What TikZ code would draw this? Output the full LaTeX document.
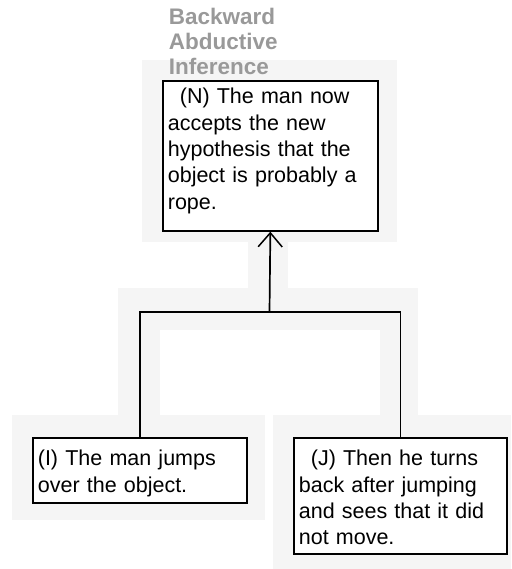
\documentclass[tikz,border=0pt]{standalone}
\usepackage{fontspec}
\setmainfont{Liberation Sans}
\usetikzlibrary{arrows.meta}

\begin{document}
\begin{tikzpicture}[x=1pt, y=-1pt, line width=1.7pt,
	shade/.style={fill=black!4, draw=none},
	claim/.style={draw, fill=white, anchor=north west, align=left, inner sep=0pt, inner xsep=5pt,
		font=\fontsize{21.5}{26.3}\selectfont},
	heading/.style={anchor=base west, align=left, text width=140pt, inner sep=0pt, text=black!40,
		font=\fontsize{22.5}{25}\selectfont\bfseries},
	arrows={-Straight Barb[length=14pt, width=24pt, line width=1.5pt]}]
	\useasboundingbox (0,0) rectangle (511,569);

	% light backdrop
	\fill[shade] (142,60) rectangle (397,242);
	\fill[shade] (248,242) rectangle (288,288);
	\fill[shade] (118,288) rectangle (418,415);
	\fill[white] (160,330) rectangle (380,415);
	\fill[shade] (12,415) rectangle (265,520);
	\fill[shade] (273,415) rectangle (511,569);

	\node[heading] (title) at (168,25) {Backward\\Abductive\\Inference};

	\node[claim, text width=205pt, text height=23pt, text depth=127pt] (N) at (162,80)
		{\hspace*{12pt}(N) The man now\\accepts the new\\hypothesis that the\\object is probably a\\rope.};
	\node[claim, text width=204pt, text height=28pt, text depth=37pt] (I) at (32,437)
		{(I) The man jumps\\over the object.};
	\node[claim, text width=203pt, text height=28pt, text depth=88pt] (J) at (293,437)
		{\hspace*{12pt}(J) Then he turns\\back after jumping\\and sees that it did\\not move.};

	\coordinate (fork) at (269.5,312);
	\draw (fork) -- (N.south);
	\draw[-] (I.north) |- (fork) -| (J.north);
\end{tikzpicture}
\end{document}
